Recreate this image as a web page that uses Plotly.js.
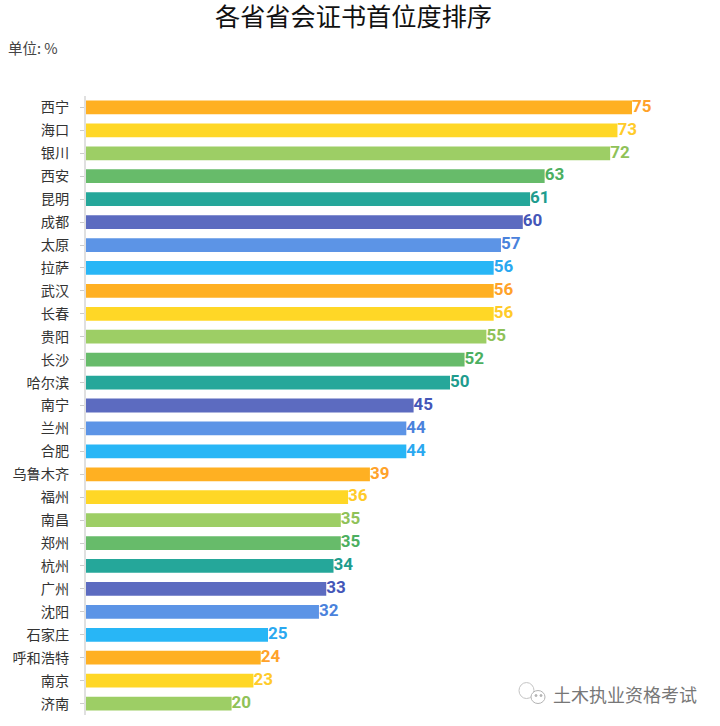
<!DOCTYPE html>
<html>
<head>
<meta charset="utf-8">
<script src="https://cdn.plot.ly/plotly-3.0.1.min.js"></script>
<style>html,body{margin:0;padding:0;background:#fff}#chart{width:720px;height:726px}</style>
</head>
<body>
<div id="chart"></div>
<script>
const cities = ["西宁","海口","银川","西安","昆明","成都","太原","拉萨","武汉","长春","贵阳","长沙","哈尔滨","南宁","兰州","合肥","乌鲁木齐","福州","南昌","郑州","杭州","广州","沈阳","石家庄","呼和浩特","南京","济南"];
const values = [75,73,72,63,61,60,57,56,56,56,55,52,50,45,44,44,39,36,35,35,34,33,32,25,24,23,20];
const barPalette = ["#FFB022","#FFD726","#9DCE65","#67BB6A","#25A79A","#5C6BC0","#5C94E6","#28B6F6"];
const labelPalette = ["#FFA22A","#FFCB2A","#8FC258","#4CAF60","#1E9C8E","#4456B8","#4A82DC","#2AA8F0"];
const barColors = cities.map((_, i) => barPalette[i % 8]);
const labelColors = cities.map((_, i) => labelPalette[i % 8]);
const CJK = '"Noto Sans CJK SC","Noto Sans",sans-serif';

const bars = {
  type: 'bar', orientation: 'h',
  y: cities, x: values,
  marker: {color: barColors, line: {width: 0}},
  hoverinfo: 'x+y'
};
const labels = {
  type: 'scatter', mode: 'text',
  y: cities, x: values,
  text: values.map(String),
  textposition: 'middle right',
  cliponaxis: false,
  textfont: {family: 'Roboto,sans-serif', size: 17, color: labelColors, weight: 700},
  hoverinfo: 'skip'
};
const px = x => (x - 86) / 614;
const py = y => (715.5 - y) / 620;
const bubble = (x0, x1, y0, y1, color, fill) => ({type: 'circle', xref: 'paper', yref: 'paper',
  x0: px(x0), x1: px(x1), y0: py(y1), y1: py(y0), line: {color: color, width: 1}, fillcolor: fill});
const layout = {
  width: 720, height: 726,
  margin: {l: 86, r: 20, t: 95.5, b: 10.5},
  paper_bgcolor: '#fff', plot_bgcolor: '#fff',
  bargap: 0.4,
  showlegend: false,
  title: {text: '各省省会证书首位度排序', font: {family: 'Roboto,"Noto Sans CJK SC",sans-serif', size: 25.2, color: '#111'},
          x: 353.5/720, xanchor: 'center', y: 1 - 17.5/726, yanchor: 'middle'},
  xaxis: {range: [0, 84.34], visible: false, fixedrange: true},
  yaxis: {type: 'category', categoryorder: 'array', categoryarray: cities, range: [26.5, -0.5],
          showgrid: false, zeroline: false,
          showline: true, linecolor: '#e0e0e0', linewidth: 2,
          ticks: 'outside', ticklen: 4, tickwidth: 1, tickcolor: '#cccccc', ticklabelstandoff: 8,
          tickfont: {family: CJK, size: 14.2, color: '#333'}, automargin: false, fixedrange: true},
  annotations: [
    {text: '单位: %', xref: 'paper', yref: 'paper', x: px(6), y: py(47), xanchor: 'left', yanchor: 'middle',
     showarrow: false, font: {family: CJK, size: 14.5, color: '#444'}},
    {text: '土木执业资格考试', xref: 'paper', yref: 'paper', x: px(699), y: py(694), xanchor: 'right', yanchor: 'middle',
     showarrow: false, font: {family: CJK, size: 18, color: '#777'}}
  ],
  shapes: [
    bubble(519, 534, 683, 699, '#c4c4c4', 'rgba(0,0,0,0)'),
    bubble(531, 545, 691, 704, '#b4b4b4', '#fff'),
    bubble(535, 537, 695, 697, '#b4b4b4', '#b4b4b4'),
    bubble(540, 542, 695, 697, '#b4b4b4', '#b4b4b4')
  ]
};
Plotly.newPlot('chart', [bars, labels], layout, {displayModeBar: false, staticPlot: true});
</script>
</body>
</html>
